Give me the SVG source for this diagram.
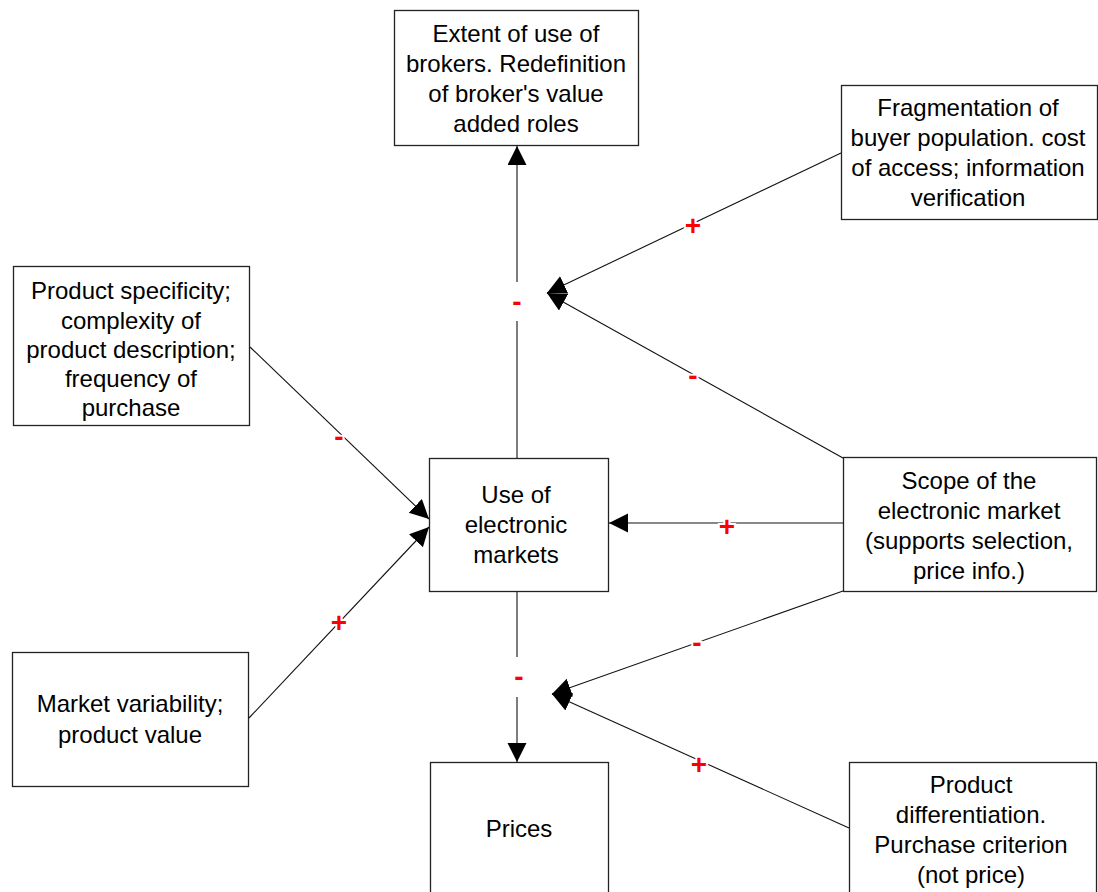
<svg xmlns="http://www.w3.org/2000/svg" width="1098" height="892" viewBox="0 0 1098 892">
<style>
.box{fill:#fff;stroke:#222;stroke-width:1.3}
.t{font-family:"Liberation Sans",Arial,sans-serif;font-size:24px;fill:#000;text-anchor:middle}
.c{fill:none;stroke:#111;stroke-width:1.1}
.l{font-family:"Liberation Sans",Arial,sans-serif;font-size:28px;font-weight:bold;fill:#f00;text-anchor:middle;stroke:#fff;stroke-width:4;paint-order:stroke}
</style>
<defs>
<marker id="ah" markerUnits="userSpaceOnUse" markerWidth="20" markerHeight="20" refX="19" refY="9.5" orient="auto">
<path d="M0,0 L19,9.5 L0,19 z" fill="#000"/>
</marker>
</defs>
<rect width="1098" height="892" fill="#fff"/>
<g id="connectors">
<line class="c" x1="517" y1="458" x2="517" y2="321"/>
<line class="c" x1="517" y1="282" x2="517" y2="146" marker-end="url(#ah)"/>
<line class="c" x1="517" y1="592" x2="517" y2="657"/>
<line class="c" x1="517" y1="697" x2="517" y2="762" marker-end="url(#ah)"/>
<line class="c" x1="841" y1="153" x2="547" y2="293" marker-end="url(#ah)"/>
<line class="c" x1="843" y1="458" x2="547" y2="293" marker-end="url(#ah)"/>
<line class="c" x1="843" y1="523" x2="609" y2="523" marker-end="url(#ah)"/>
<line class="c" x1="843" y1="591" x2="552" y2="694" marker-end="url(#ah)"/>
<line class="c" x1="849" y1="828" x2="552" y2="694" marker-end="url(#ah)"/>
<line class="c" x1="250" y1="347" x2="429" y2="519" marker-end="url(#ah)"/>
<line class="c" x1="249" y1="718" x2="429" y2="527" marker-end="url(#ah)"/>
<text class="l" x="517" y="311">-</text>
<text class="l" x="519" y="686">-</text>
<text class="l" x="693" y="235">+</text>
<text class="l" x="693" y="385">-</text>
<text class="l" x="727" y="536">+</text>
<text class="l" x="697" y="652">-</text>
<text class="l" x="699" y="774">+</text>
<text class="l" x="339" y="446">-</text>
<text class="l" x="339" y="632">+</text>
</g>
<g id="brokers">
<rect class="box" x="394.5" y="10.5" width="244" height="135"/>
<text class="t"><tspan x="516" y="42">Extent of use of</tspan><tspan x="516" y="72">brokers. Redefinition</tspan><tspan x="516" y="102">of broker's value</tspan><tspan x="516" y="132">added roles</tspan></text>
</g>
<g id="fragmentation">
<rect class="box" x="841.5" y="85.5" width="256" height="134"/>
<text class="t"><tspan x="968" y="116">Fragmentation of</tspan><tspan x="968" y="146">buyer population. cost</tspan><tspan x="968" y="176">of access; information</tspan><tspan x="968" y="206">verification</tspan></text>
</g>
<g id="specificity">
<rect class="box" x="13.5" y="266.5" width="236" height="159"/>
<text class="t"><tspan x="131" y="299">Product specificity;</tspan><tspan x="131" y="329">complexity of</tspan><tspan x="131" y="358">product description;</tspan><tspan x="131" y="387">frequency of</tspan><tspan x="131" y="416">purchase</tspan></text>
</g>
<g id="use">
<rect class="box" x="429.5" y="458.5" width="179" height="133"/>
<text class="t"><tspan x="516" y="503">Use of</tspan><tspan x="516" y="533">electronic</tspan><tspan x="516" y="563">markets</tspan></text>
</g>
<g id="scope">
<rect class="box" x="843.5" y="457.5" width="253" height="134"/>
<text class="t"><tspan x="969" y="489">Scope of the</tspan><tspan x="969" y="519">electronic market</tspan><tspan x="969" y="549">(supports selection,</tspan><tspan x="969" y="579">price info.)</tspan></text>
</g>
<g id="variability">
<rect class="box" x="12.5" y="652.5" width="236" height="134"/>
<text class="t"><tspan x="130" y="712">Market variability;</tspan><tspan x="130" y="743">product value</tspan></text>
</g>
<g id="prices">
<rect class="box" x="430.5" y="762.5" width="178" height="140"/>
<text class="t" x="519" y="837">Prices</text>
</g>
<g id="differentiation">
<rect class="box" x="849.5" y="762.5" width="247" height="140"/>
<text class="t"><tspan x="971" y="793">Product</tspan><tspan x="971" y="823">differentiation.</tspan><tspan x="971" y="853">Purchase criterion</tspan><tspan x="971" y="883">(not price)</tspan></text>
</g>
</svg>
